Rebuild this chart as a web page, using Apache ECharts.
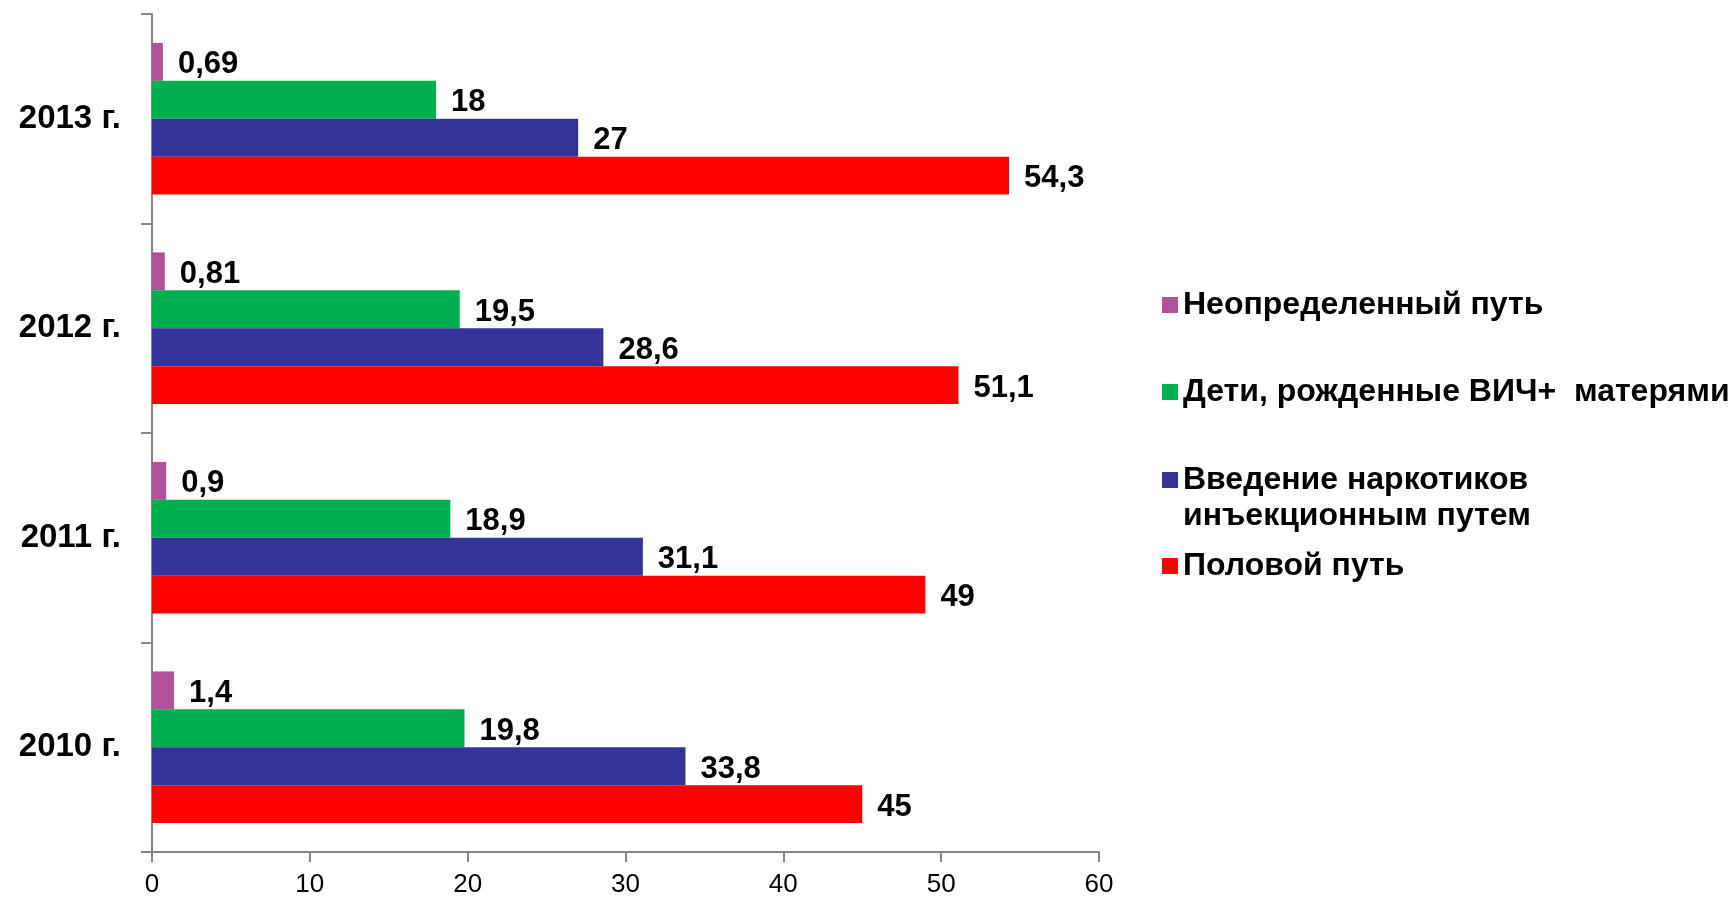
<!DOCTYPE html>
<html><head><meta charset="utf-8">
<script src="https://cdn.jsdelivr.net/npm/echarts@6/dist/echarts.min.js"></script>
<style>html,body{margin:0;padding:0;background:#fff}#c{width:1730px;height:898px}</style>
</head><body><div id="c"></div>
<script>
const categories = ['2010 г.', '2011 г.', '2012 г.', '2013 г.'];
const seriesNames = ['Неопределенный путь', 'Дети, рожденные ВИЧ+  матерями', 'Введение наркотиков\nинъекционным путем', 'Половой путь'];
const undetermined = [1.4, 0.9, 0.81, 0.69];
const children = [19.8, 18.9, 19.5, 18];
const drugs = [33.8, 31.1, 28.6, 27];
const sexual = [45, 49, 51.1, 54.3];
const xTicks = [0, 10, 20, 30, 40, 50, 60];
const colors = ['#AF529B', '#00B050', '#333399', '#FF0000'];

const FONT = "'Liberation Sans', Arial, sans-serif";
const values = [undetermined, children, drugs, sexual];
const fmt = v => String(v).replace('.', ',');

const series = values.map((d, i) => ({
  name: seriesNames[i],
  type: 'bar',
  data: d,
  barGap: '0%',
  barCategoryGap: '27.6%',
  itemStyle: { color: colors[i] },
  label: {
    show: true, position: 'right', distance: 15, offset: [0, 3],
    formatter: p => fmt(p.value),
    fontFamily: FONT, fontWeight: 'bold', fontSize: 31, color: '#000'
  }
}));

const legendTops = [287, 374, 426, 548];
const legends = seriesNames.map((n, i) => ({
  data: [n], orient: 'vertical', left: 1162, top: legendTops[i], padding: 0,
  itemWidth: 16, itemHeight: 16, icon: 'rect', selectedMode: false,
  formatter: i === 2 ? (name => ' \n' + name) : '{name}',
  textStyle: {
    fontFamily: FONT, fontWeight: 'bold', fontSize: 32, color: '#000', lineHeight: 36
  }
}));

const chart = echarts.init(document.getElementById('c'));
chart.setOption({
  animation: false,
  grid: { left: 152, top: 14, right: 631, bottom: 43, containLabel: false },
  legend: legends,
  xAxis: {
    type: 'value', min: xTicks[0], max: xTicks[xTicks.length - 1], interval: 10,
    splitLine: { show: false },
    axisLine: { show: true, lineStyle: { color: '#868686', width: 2 } },
    axisTick: { show: true, length: 10, lineStyle: { color: '#868686', width: 2 } },
    axisLabel: { margin: 20, fontFamily: FONT, fontSize: 26, color: '#000' }
  },
  yAxis: {
    type: 'category', data: categories,
    axisLine: { show: true, lineStyle: { color: '#868686', width: 2 } },
    axisTick: { show: true, length: 11, lineStyle: { color: '#868686', width: 2 } },
    axisLabel: { margin: 31, padding: [12, 0, 0, 0], fontFamily: FONT, fontWeight: 'bold', fontSize: 33, color: '#000' }
  },
  series: series
});
</script></body></html>
